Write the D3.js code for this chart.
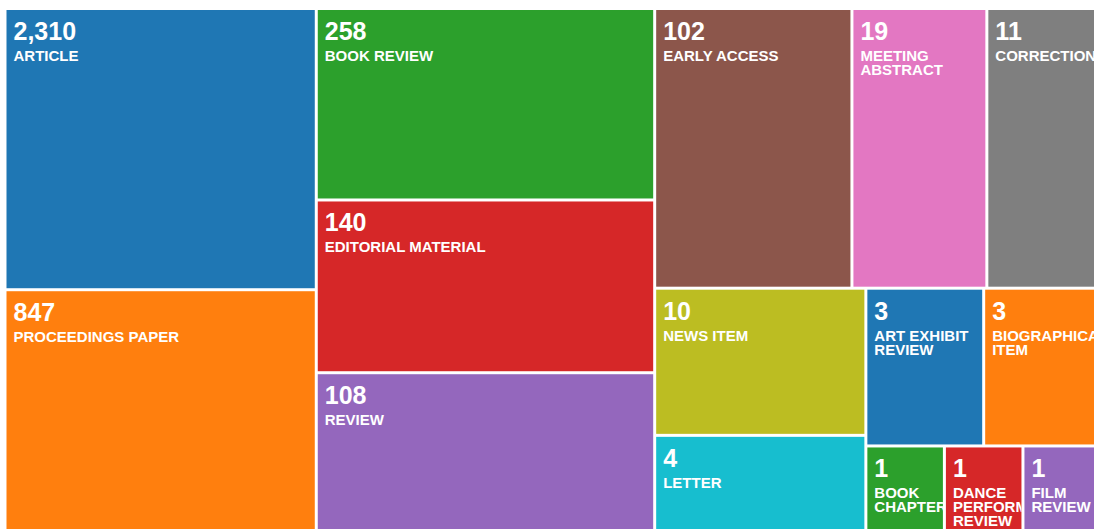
<!DOCTYPE html>
<html>
<head>
<meta charset="utf-8">
<script src="https://cdn.jsdelivr.net/npm/d3@7"></script>
<style>
  body { margin: 0; background: #fff; overflow: hidden; }
  svg { display: block; }
  text { font-family: "Liberation Sans", Arial, sans-serif; font-weight: bold; fill: #fff; }
</style>
</head>
<body>
<div class="chart"></div>
<script>
// document types and record counts
const types = [
  "ARTICLE", "PROCEEDINGS PAPER", "BOOK REVIEW", "EDITORIAL MATERIAL", "REVIEW",
  "EARLY ACCESS", "MEETING ABSTRACT", "CORRECTION", "NEWS ITEM", "LETTER",
  "ART EXHIBIT REVIEW", "BIOGRAPHICAL ITEM", "BOOK CHAPTER", "DANCE PERFORMANCE REVIEW", "FILM REVIEW"
];
const counts = [2310, 847, 258, 140, 108, 102, 19, 11, 10, 4, 3, 3, 1, 1, 1];

let dims = { width: 1094, height: 529 };
const frame = { x: 6.5, y: 10, w: 1093.5, h: 526 };

// tile size grows with the log of the count
const weight = d3.scaleLog().domain([0.5, 1]).range([0, 1]);
const color = d3.scaleOrdinal(d3.schemeCategory10);

let svg = d3.select(".chart")
  .append("svg")
  .attr("width", dims.width)
  .attr("height", dims.height);

const root = d3.hierarchy({ children: types.map((t, i) => ({ name: t, count: counts[i], idx: i })) })
  .sum(d => d.count ? weight(d.count) : 0);

d3.treemap()
  .tile(d3.treemapSquarify)
  .size([frame.w, frame.h])
  .paddingInner(3)(root);

let cells = svg.append("g")
  .attr("transform", `translate(${frame.x}, ${frame.y})`)
  .selectAll("g")
  .data(root.leaves())
  .join("g")
  .attr("transform", d => `translate(${d.x0}, ${d.y0})`);

cells.append("clipPath")
  .attr("id", d => "clip-" + d.data.idx)
  .append("rect")
  .attr("width", d => d.x1 - d.x0)
  .attr("height", d => d.y1 - d.y0);

cells.append("rect")
  .attr("width", d => d.x1 - d.x0)
  .attr("height", d => d.y1 - d.y0)
  .attr("fill", d => color(d.data.idx));

let labels = cells.append("g").attr("clip-path", d => `url(#clip-${d.data.idx})`);

labels.append("text")
  .attr("x", 7)
  .attr("y", 30)
  .style("font-size", "25px")
  .text(d => d3.format(",")(d.data.count));

// greedy word wrap into the tile width
const measure = svg.append("text").style("font-size", "15px").attr("visibility", "hidden");
let wrap = (str, maxW) => {
  let lines = [], cur = "";
  str.split(" ").forEach(w => {
    let test = cur ? cur + " " + w : w;
    measure.text(test);
    if (cur && measure.node().getComputedTextLength() > maxW) {
      lines.push(cur);
      cur = w;
    } else {
      cur = test;
    }
  });
  if (cur) lines.push(cur);
  return lines;
};

labels.append("text")
  .style("font-size", "15px")
  .each(function (d) {
    const lines = wrap(d.data.name, d.x1 - d.x0 - 12);
    d3.select(this).selectAll("tspan")
      .data(lines)
      .join("tspan")
      .attr("x", 7)
      .attr("y", (l, i) => 51 + i * 14)
      .text(l => l);
  });

measure.remove();
</script>
</body>
</html>
